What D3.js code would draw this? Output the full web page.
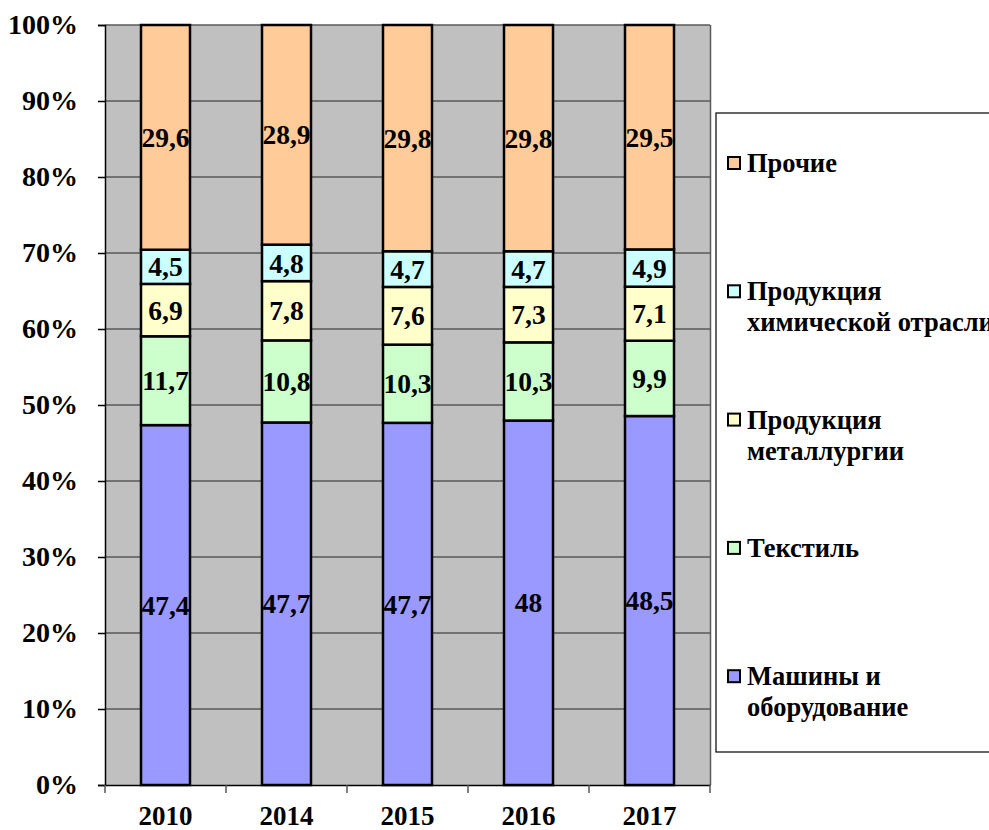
<!DOCTYPE html>
<html>
<head>
<meta charset="utf-8">
<script src="https://cdn.jsdelivr.net/npm/d3@7"></script>
<style>
  body { margin: 0; background: #fff; }
  svg text { font-family: "Times New Roman", "Liberation Serif", Tinos, "DejaVu Serif", serif; font-weight: bold; fill: #000; }
</style>
</head>
<body>
<div id="chart"></div>
<script>
const years = ['2010', '2014', '2015', '2016', '2017'];
const machines = [47.4, 47.7, 47.7, 48, 48.5];
const textile = [11.7, 10.8, 10.3, 10.3, 9.9];
const metallurgy = [6.9, 7.8, 7.6, 7.3, 7.1];
const chemistry = [4.5, 4.8, 4.7, 4.7, 4.9];
const other = [29.6, 28.9, 29.8, 29.8, 29.5];
const seriesKeys = ['machines', 'textile', 'metallurgy', 'chemistry', 'other'];
const seriesLabels = [
  ['Машины и', 'оборудование'],
  ['Текстиль'],
  ['Продукция', 'металлургии'],
  ['Продукция', 'химической отрасли'],
  ['Прочие']
];
const seriesColors = ['#9999FF', '#CCFFCC', '#FFFFCC', '#CCFFFF', '#FFCC99'];

const FONT = '"Times New Roman", "Liberation Serif", Tinos, "DejaVu Serif", serif';

const drawChart = (id) => {
  const width = 989;
  const height = 830;
  const margin = { top: 25, bottom: 45, left: 105, right: 279 };
  const chartWidth = width - margin.left - margin.right;
  const chartHeight = height - margin.top - margin.bottom;

  const rows = years.map((year, i) => ({
    year,
    machines: machines[i],
    textile: textile[i],
    metallurgy: metallurgy[i],
    chemistry: chemistry[i],
    other: other[i]
  }));

  const stacked = d3.stack()
    .keys(seriesKeys)
    .offset(d3.stackOffsetExpand)(rows);

  const svg = d3.select(`#${id}`)
    .append('svg')
    .attr('width', width)
    .attr('height', height);

  const g = svg.append('g')
    .attr('transform', `translate(${margin.left}, ${margin.top})`);

  const x = d3.scaleBand()
    .domain(years)
    .range([0, chartWidth])
    .paddingInner(0.595)
    .paddingOuter(0.2975);

  const y = d3.scaleLinear()
    .domain([0, 1])
    .range([chartHeight, 0]);

  g.append('rect')
    .attr('width', chartWidth)
    .attr('height', chartHeight)
    .attr('fill', '#C0C0C0');

  // gridlines
  g.selectAll('.grid')
    .data(y.ticks(10).slice(1))
    .enter()
    .append('line')
    .attr('x1', 0)
    .attr('x2', chartWidth)
    .attr('y1', (d) => y(d))
    .attr('y2', (d) => y(d))
    .attr('stroke', '#5a5a5a')
    .attr('stroke-width', 1.5);

  g.append('line')
    .attr('x1', chartWidth + 0.5)
    .attr('x2', chartWidth + 0.5)
    .attr('y1', 0)
    .attr('y2', chartHeight)
    .attr('stroke', '#5a5a5a')
    .attr('stroke-width', 1.5);

  const layer = g.selectAll('.layer')
    .data(stacked)
    .enter()
    .append('g')
    .attr('class', 'layer')
    .attr('fill', (d, i) => seriesColors[i]);

  layer.selectAll('rect')
    .data((d) => d)
    .enter()
    .append('rect')
    .attr('x', (d) => x(d.data.year))
    .attr('y', (d) => y(d[1]))
    .attr('width', x.bandwidth())
    .attr('height', (d) => y(d[0]) - y(d[1]))
    .attr('stroke', '#000')
    .attr('stroke-width', 2.5);

  layer.selectAll('text')
    .data((d) => d.map((p) => ({ p, key: d.key })))
    .enter()
    .append('text')
    .attr('x', (d) => x(d.p.data.year) + x.bandwidth() / 2)
    .attr('y', (d) => (y(d.p[0]) + y(d.p[1])) / 2)
    .attr('dy', '0.35em')
    .attr('text-anchor', 'middle')
    .attr('font-size', 27.5)
    .text((d) => String(d.p.data[d.key]).replace('.', ','));

  const yAxis = g.append('g')
    .call(d3.axisLeft(y).ticks(10).tickFormat(d3.format('.0%')).tickSizeOuter(0).tickSize(7).tickPadding(20));
  yAxis.select('.domain').attr('stroke', '#000').attr('stroke-width', 1.5);
  yAxis.selectAll('.tick line').attr('stroke', '#000').attr('stroke-width', 1.5);
  yAxis.selectAll('text')
    .attr('font-size', 28)
    .attr('font-family', FONT)
    .attr('font-weight', 'bold')
    .attr('fill', '#000');

  const xAxis = g.append('g')
    .attr('transform', `translate(0, ${chartHeight})`)
    .call(d3.axisBottom(x).tickSize(0).tickPadding(21));
  xAxis.select('.domain').attr('stroke', '#000').attr('stroke-width', 1.5);
  xAxis.selectAll('text')
    .attr('font-size', 27)
    .attr('font-family', FONT)
    .attr('font-weight', 'bold')
    .attr('fill', '#000');

  // category separator ticks
  const step = x.step();
  g.selectAll('.cat-tick')
    .data(d3.range(years.length + 1))
    .enter()
    .append('line')
    .attr('x1', (d) => d * step)
    .attr('x2', (d) => d * step)
    .attr('y1', chartHeight)
    .attr('y2', chartHeight + 8)
    .attr('stroke', '#555')
    .attr('stroke-width', 1.5);

  // legend
  const legend = svg.append('g')
    .attr('transform', 'translate(716, 113)');

  legend.append('rect')
    .attr('width', 320)
    .attr('height', 639)
    .attr('fill', '#fff')
    .attr('stroke', '#000')
    .attr('stroke-width', 1.2);

  const order = d3.range(seriesKeys.length).reverse();
  const item = legend.selectAll('.item')
    .data(order)
    .enter()
    .append('g')
    .attr('class', 'item')
    .attr('transform', (d, i) => `translate(0, ${59 + i * 128.3})`);

  item.append('rect')
    .attr('x', 12)
    .attr('y', -15)
    .attr('width', 12)
    .attr('height', 12)
    .attr('fill', (d) => seriesColors[d])
    .attr('stroke', '#000')
    .attr('stroke-width', 2);

  item.append('text')
    .attr('x', 31)
    .attr('font-size', 26.5)
    .attr('font-family', FONT)
    .selectAll('tspan')
    .data((d) => seriesLabels[d])
    .enter()
    .append('tspan')
    .attr('x', 31)
    .attr('dy', (d, i) => (i === 0 ? 0 : 31))
    .text((d) => d);
};

drawChart('chart');
</script>
</body>
</html>
